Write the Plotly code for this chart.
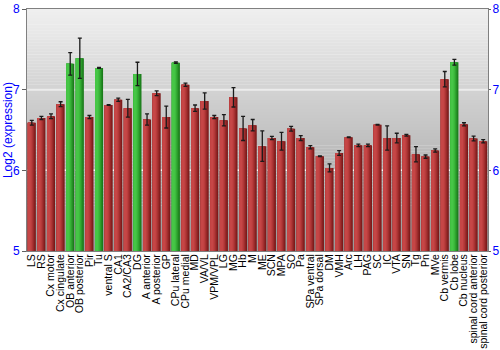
import plotly.graph_objects as go

regions = ["LS", "RS", "Cx motor", "Cx cingulate", "OB anterior", "OB posterior", "Pir", "Tu",
           "ventral S", "CA1", "CA2/CA3", "DG", "A anterior", "A posterior", "GP", "CPu lateral",
           "CPu medial", "MD", "VA/VL", "VPM/VPL", "LG", "MG", "Hb", "M", "ME", "SCN", "MPA", "SO",
           "Pa", "SPa ventral", "SPa dorsal", "DM", "VMH", "Arc", "LH", "PAG", "SC", "IC", "VTA",
           "SN", "Tg", "Pn", "MVe", "Cb vermis", "Cb lobe", "Cb nucleus", "spinal cord anterior",
           "spinal cord posterior"]
expression = [6.59, 6.65, 6.67, 6.82, 7.32, 7.39, 6.66, 7.27,
              6.81, 6.875, 6.77, 7.195, 6.63, 6.955, 6.66, 7.335,
              7.06, 6.77, 6.86, 6.66, 6.62, 6.905, 6.52, 6.56, 6.30, 6.40, 6.36, 6.515,
              6.40, 6.287, 6.175, 6.03, 6.215, 6.41, 6.31, 6.31, 6.565, 6.40, 6.40,
              6.435, 6.20, 6.17, 6.245, 7.13, 7.34, 6.57, 6.395,
              6.36]
error = [0.03, 0.02, 0.03, 0.03, 0.14, 0.25, 0.02, 0.005,
         0.005, 0.02, 0.11, 0.145, 0.07, 0.03, 0.135, 0.01,
         0.02, 0.04, 0.10, 0.02, 0.07, 0.12, 0.15, 0.07, 0.19, 0.02, 0.11, 0.03,
         0.03, 0.02, 0.005, 0.05, 0.03, 0.005, 0.015, 0.015, 0.005, 0.15, 0.06,
         0.01, 0.095, 0.02, 0.02, 0.095, 0.035, 0.02, 0.03,
         0.02]
highlighted = ["OB anterior", "OB posterior", "Tu", "DG", "CPu lateral", "Cb lobe"]
y_ticks = [5, 6, 7, 8]

# gradient layers for bars: (fraction of width from the left edge, red colour, green colour)
red_layers = ["#7a1a1a", "#8a2222", "#9c2c2c", "#ad3535", "#bb3e3e", "#c64646"]
green_layers = ["#1a7a1a", "#228a22", "#2c9c2c", "#35ad35", "#3ebb3e", "#46c646"]
fractions = [1.0, 0.88, 0.76, 0.64, 0.52, 0.38]
W = 0.84

fig = go.Figure()
for frac, rc, gc in zip(fractions, red_layers, green_layers):
    colors = [gc if r in highlighted else rc for r in regions]
    fig.add_trace(go.Bar(
        x=regions, y=expression, width=W * frac, offset=-W / 2,
        marker=dict(color=colors, line=dict(width=0)),
        showlegend=False, hoverinfo="skip",
    ))

fig.add_trace(go.Scatter(
    x=regions, y=expression, mode="markers",
    marker=dict(size=1, color="rgba(0,0,0,0)"),
    error_y=dict(type="data", array=error, visible=True, color="#1a1a1a", thickness=1.3, width=2),
    showlegend=False,
))
# dummy trace for right axis
fig.add_trace(go.Scatter(x=[regions[0]], y=[5], yaxis="y2", mode="markers",
                         marker=dict(size=1, color="rgba(0,0,0,0)"), showlegend=False, hoverinfo="skip"))

# background gradient
shapes = []
N = 80
top = (240, 240, 240)
bot = (152, 152, 152)
for i in range(N):
    t = (i + 0.5) / N
    c = tuple(int(round(top[j] + (bot[j] - top[j]) * t)) for j in range(3))
    shapes.append(dict(type="rect", xref="paper", yref="paper", x0=0, x1=1,
                       y0=1 - (i + 1) / N - 0.001, y1=1 - i / N,
                       fillcolor="rgb(%d,%d,%d)" % c, line=dict(width=0), layer="below"))
shapes.append(dict(type="line", xref="paper", yref="y", x0=0, x1=1, y0=7, y1=7,
                   line=dict(color="#ececec", width=2), layer="below"))
shapes.append(dict(type="line", xref="paper", yref="y", x0=0, x1=1, y0=6, y1=6,
                   line=dict(color="#ffffff", width=1.5, dash="dot"), layer="below"))

fig.update_layout(
    width=500, height=350,
    margin=dict(l=27, r=12, t=9, b=99),
    barmode="overlay",
    paper_bgcolor="white", plot_bgcolor="rgba(0,0,0,0)",
    font=dict(family="Arial, Liberation Sans, sans-serif"),
    shapes=shapes,
    xaxis=dict(type="category", tickangle=-90, tickfont=dict(size=10.5, color="black"),
               tickmode="array", tickvals=regions, ticktext=regions, automargin=False,
               ticklabelstandoff=-2,
               showgrid=False, showline=True, linecolor="#808080", mirror=True,
               ticks="", range=[-0.5, len(regions) - 0.5]),
    yaxis=dict(range=[5, 8], tickvals=y_ticks, showgrid=False, zeroline=False, automargin=False,
               showline=True, linecolor="#808080", ticks="outside", ticklen=4,
               tickcolor="#606060", tickfont=dict(size=12, color="#0000ff")),
    yaxis2=dict(range=[5, 8], tickvals=y_ticks, overlaying="y", side="right", automargin=False,
                showgrid=False, zeroline=False, showline=True, linecolor="#808080",
                ticks="outside", ticklen=2, tickcolor="#606060", ticklabelstandoff=-1,
                tickfont=dict(size=12, color="#0000ff")),
    annotations=[dict(text="Log2 (expression)", xref="paper", yref="paper", x=-0.041, y=0.5,
                      xanchor="center", yanchor="middle", textangle=-90, showarrow=False,
                      font=dict(size=12, color="#0000ff"))],
)

fig.write_html("out.html")
